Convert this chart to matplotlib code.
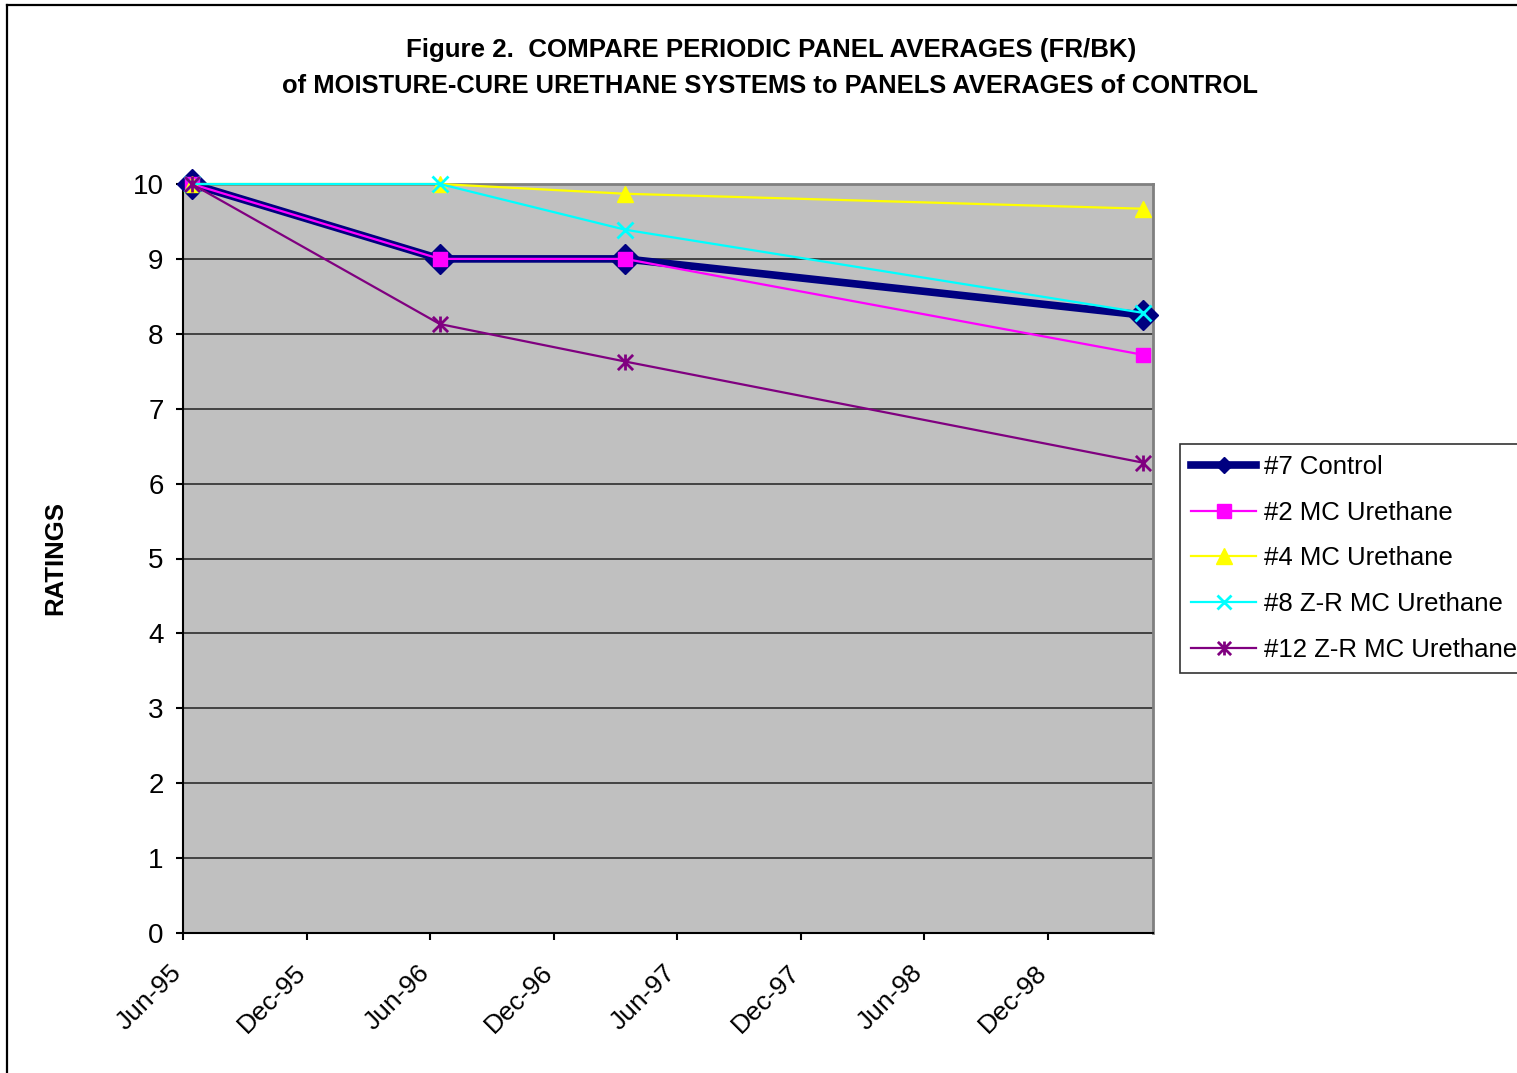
import datetime as dt
import matplotlib
matplotlib.use("Agg")
import matplotlib.pyplot as plt
import matplotlib.dates as mdates
import matplotlib.transforms as mtransforms
from matplotlib.lines import Line2D
from matplotlib.path import Path

plt.rcParams['font.family'] = ['Liberation Sans', 'DejaVu Sans']

# Inspection dates and panel average ratings
dates = [dt.date(1995, 6, 14), dt.date(1996, 6, 15), dt.date(1997, 3, 16), dt.date(1999, 4, 21)]
control_7 = [10.0, 9.0, 9.0, 8.25]
mc_2 = [10.0, 9.0, 9.0, 7.72]
mc_4 = [10.0, 10.0, 9.87, 9.67]
zr_mc_8 = [10.0, 10.0, 9.39, 8.28]
zr_mc_12 = [10.0, 8.13, 7.63, 6.28]

series_labels = ["#7 Control", "#2 MC Urethane", "#4 MC Urethane",
                 "#8 Z-R MC Urethane", "#12 Z-R MC Urethane"]
y_ticks = list(range(0, 11))

# Star marker: an "x" with a vertical bar through it
star = Path([(-1, -1), (1, 1), (-1, 1), (1, -1), (0, -1.05), (0, 1.05)],
            [Path.MOVETO, Path.LINETO, Path.MOVETO, Path.LINETO, Path.MOVETO, Path.LINETO])

fig = plt.figure(figsize=(15.17, 10.73), dpi=100)
ax = fig.add_axes([183 / 1517, 1 - 933 / 1073, 970 / 1517, 749 / 1073])
ax.set_facecolor('#C0C0C0')

ax.plot(dates, control_7, color='#000080', lw=5.5, marker='D', ms=15,
        mfc='#000080', mec='#000080', label=series_labels[0], zorder=3, clip_on=False)
ax.plot(dates, mc_2, color='#FF00FF', lw=1.6, marker='s', ms=9.5,
        mfc='#FF00FF', mec='#FF00FF', label=series_labels[1], zorder=4, clip_on=False)
ax.plot(dates, mc_4, color='#FFFF00', lw=1.6, marker='^', ms=11,
        mfc='#FFFF00', mec='#FFFF00', label=series_labels[2], zorder=5, clip_on=False)
ax.plot(dates, zr_mc_8, color='#00FFFF', lw=1.6, marker='x', ms=11, mew=2,
        mec='#00FFFF', label=series_labels[3], zorder=6, clip_on=False)
ax.plot(dates, zr_mc_12, color='#800080', lw=1.6, marker=star, ms=11.5, mew=2,
        mfc='none', mec='#800080', label=series_labels[4], zorder=7, clip_on=False)

ax.set_xlim(dt.date(1995, 6, 1), dt.date(1999, 5, 6))
ax.set_ylim(0, 10)
ax.set_yticks(y_ticks)
ax.xaxis.set_major_locator(mdates.MonthLocator(bymonth=[6, 12]))
ax.xaxis.set_major_formatter(mdates.DateFormatter('%b-%y'))

ax.grid(axis='y', color='#202020', lw=1.1, zorder=1)
ax.set_axisbelow(True)
ax.tick_params(axis='both', direction='out', length=5, width=1.5, colors='black')
ax.tick_params(axis='y', pad=9, labelsize=20)
ax.tick_params(axis='x', pad=21, labelsize=19)

# Rotated date labels hang down-left from each tick
shift = mtransforms.ScaledTranslation(-5 / 100, 0, fig.dpi_scale_trans)
for lbl in ax.get_xticklabels():
    lbl.set_rotation(45)
    lbl.set_ha('right')
    lbl.set_va('center')
    lbl.set_rotation_mode('anchor')
    lbl.set_transform(lbl.get_transform() + shift)

for side in ('top', 'right'):
    ax.spines[side].set_color('#808080')
    ax.spines[side].set_linewidth(2)
for side in ('left', 'bottom'):
    ax.spines[side].set_color('black')
    ax.spines[side].set_linewidth(1.5)

ax.set_ylabel('RATINGS', fontsize=18.5, fontweight='bold', labelpad=0)
ax.yaxis.set_label_coords(67 / 1517, 1 - 558 / 1073, transform=fig.transFigure)

fig.text(771 / 1517, 1 - 50 / 1073,
         "Figure 2.  COMPARE PERIODIC PANEL AVERAGES (FR/BK)",
         ha='center', va='center', fontsize=18.6, fontweight='bold')
fig.text(770 / 1517, 1 - 86 / 1073,
         "of MOISTURE-CURE URETHANE SYSTEMS to PANELS AVERAGES of CONTROL",
         ha='center', va='center', fontsize=18.4, fontweight='bold')

leg = ax.legend(loc='upper left', bbox_to_anchor=(1180 / 1517, 1 - 444 / 1073),
                bbox_transform=fig.transFigure, fontsize=18.5, frameon=True,
                fancybox=False, shadow=False, borderaxespad=0,
                handlelength=2.55, handletextpad=0.3, labelspacing=0.85,
                borderpad=0.42)
leg.get_frame().set_edgecolor('black')
leg.get_frame().set_linewidth(1.2)
for handle, size in zip(leg.legend_handles, [8.5, 10, 11, 10, 10]):
    handle.set_markersize(size)

# Outer chart border along the left and top edges
fig.add_artist(Line2D([7 / 1517, 7 / 1517], [0, 1 - 5 / 1073], color='black',
                      lw=1.6, transform=fig.transFigure))
fig.add_artist(Line2D([7 / 1517, 1], [1 - 5 / 1073, 1 - 5 / 1073], color='black',
                      lw=1.6, transform=fig.transFigure))

fig.savefig('out.png', dpi=100)
